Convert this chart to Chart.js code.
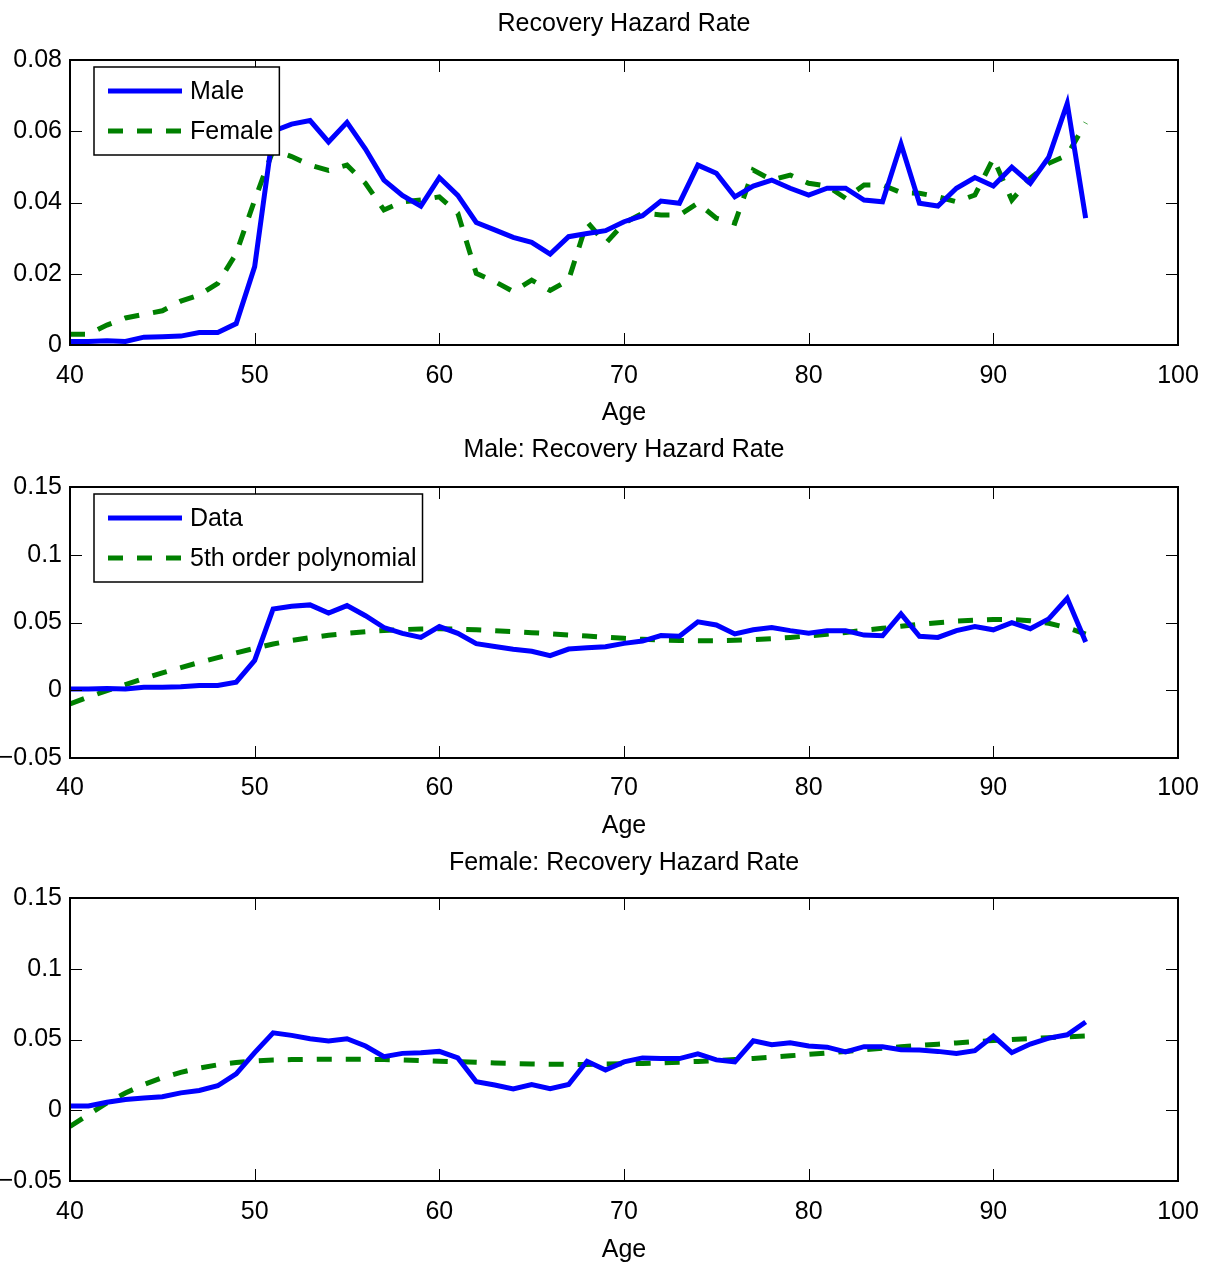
<!DOCTYPE html>
<html>
<head>
<meta charset="utf-8">
<script src="https://cdn.jsdelivr.net/npm/chart.js@4.4.1/dist/chart.umd.min.js"></script>
<style>
  body { margin: 0; background: #fff; width: 1209px; height: 1268px; position: relative; overflow: hidden; }
  .panel { position: absolute; left: 0; width: 1209px; }
</style>
</head>
<body>
<div class="panel" style="top:0;height:432px"><canvas id="all"></canvas></div>
<div class="panel" style="top:432px;height:410px"><canvas id="male"></canvas></div>
<div class="panel" style="top:842px;height:426px"><canvas id="female"></canvas></div>
<script>
// ages 40..95
const ages = [40,41,42,43,44,45,46,47,48,49,50,51,52,53,54,55,56,57,58,59,
              60,61,62,63,64,65,66,67,68,69,70,71,72,73,74,75,76,77,78,79,
              80,81,82,83,84,85,86,87,88,89,90,91,92,93,94,95]

const maleRate = [0.001,0.001,0.0012,0.001,0.0022,0.0023,0.0025,0.0035,0.0035,0.006,
                  0.022,0.060,0.062,0.063,0.057,0.0625,0.055,0.0463,0.042,0.039,
                  0.047,0.042,0.0344,0.0323,0.0302,0.0288,0.0255,0.0304,0.0313,0.0321,
                  0.0346,0.0363,0.0404,0.0398,0.0505,0.0482,0.0416,0.0446,0.0463,0.044,
                  0.0421,0.044,0.044,0.0407,0.0402,0.0564,0.0398,0.039,0.044,0.047,
                  0.0446,0.0499,0.0454,0.0527,0.0678,0.0356]

const femaleRate = [0.003,0.003,0.0056,0.0076,0.0086,0.0096,0.0123,0.014,0.0173,0.0257,
                    0.0407,0.0547,0.0529,0.0505,0.049,0.0505,0.0454,0.0379,0.0402,0.0407,
                    0.0416,0.037,0.0201,0.0178,0.015,0.0182,0.0153,0.0182,0.0346,0.0285,
                    0.0342,0.037,0.0365,0.0365,0.0398,0.0356,0.0342,0.0491,0.0463,0.0477,
                    0.0454,0.0446,0.0412,0.0449,0.0449,0.0428,0.0426,0.0416,0.0402,0.0421,
                    0.0524,0.0407,0.0468,0.051,0.0533,0.0624]

const malePoly = [-0.0101,-0.005,-0.0003,0.0042,0.0086,0.0128,0.0167,0.0205,0.0241,0.0276,
                  0.031,0.0341,0.0367,0.0388,0.0406,0.042,0.0432,0.0441,0.0448,0.0452,
                  0.0454,0.0451,0.0446,0.0440,0.0433,0.0425,0.0417,0.0408,0.04,0.0391,
                  0.0383,0.0376,0.0371,0.0368,0.0366,0.0366,0.0369,0.0374,0.0381,0.039,
                  0.0401,0.0414,0.0427,0.0442,0.0457,0.0472,0.0487,0.0499,0.051,0.0517,
                  0.0522,0.0522,0.0513,0.0494,0.0462,0.0415]

const femalePoly = [-0.0115,-0.003,0.0052,0.0122,0.0181,0.023,0.0268,0.0298,0.0321,0.0337,
                    0.0348,0.0355,0.0358,0.036,0.0361,0.0361,0.036,0.0358,0.0355,0.0351,
                    0.0347,0.0343,0.0339,0.0334,0.033,0.0327,0.0325,0.0324,0.0324,0.0326,
                    0.0328,0.0331,0.0335,0.034,0.0345,0.0351,0.0358,0.0366,0.0375,0.0385,
                    0.0395,0.0405,0.0416,0.0427,0.0438,0.0448,0.0458,0.0467,0.0476,0.0485,
                    0.0493,0.05,0.0507,0.0513,0.0519,0.0525]

const xTicks = [40,50,60,70,80,90,100]
const xLabels = ['40','50','60','70','80','90','100']
const topYTicks = [0,0.02,0.04,0.06,0.08]
const topYLabels = ['0','0.02','0.04','0.06','0.08']
const fitYTicks = [-0.05,0,0.05,0.1,0.15]
const fitYLabels = ['\u22120.05','0','0.05','0.1','0.15']

const FONT = '"Liberation Sans", Arial, Helvetica, sans-serif'
Chart.defaults.font.family = FONT
Chart.defaults.font.size = 25
Chart.defaults.color = '#000'

const BLUE = '#0000ff'
const GREEN = '#008000'

function pairs(vals) {
    return vals.map((v, i) => ({x: ages[i], y: v}))
}

function solid(label, vals) {
    return {label: label, data: pairs(vals), borderColor: BLUE, borderWidth: 5,
            pointRadius: 0, tension: 0, fill: false}
}
function dashed(label, vals) {
    return {label: label, data: pairs(vals), borderColor: GREEN, borderWidth: 5,
            borderDash: [15, 14], pointRadius: 0, tension: 0, fill: false}
}

// matlab look: full box, inward ticks, boxed legend in the corner
const matlabAxes = {
    id: 'matlabAxes',
    afterDatasetsDraw(chart) {
        const {ctx, chartArea: a} = chart
        const x = chart.scales.x, y = chart.scales.y
        ctx.save()
        ctx.strokeStyle = '#000'
        ctx.lineWidth = 1
        ctx.beginPath()
        x.ticks.forEach(t => {
            const px = Math.round(x.getPixelForValue(t.value)) + 0.5
            ctx.moveTo(px, a.bottom); ctx.lineTo(px, a.bottom - 12)
            ctx.moveTo(px, a.top); ctx.lineTo(px, a.top + 12)
        })
        y.ticks.forEach(t => {
            const py = Math.round(y.getPixelForValue(t.value)) + 0.5
            ctx.moveTo(a.left, py); ctx.lineTo(a.left + 12, py)
            ctx.moveTo(a.right, py); ctx.lineTo(a.right - 12, py)
        })
        ctx.stroke()
        ctx.lineWidth = 2
        ctx.strokeRect(a.left, a.top, a.right - a.left, a.bottom - a.top)
        ctx.restore()
    },
    afterDraw(chart, args, opts) {
        if (!opts.show) return
        const {ctx, chartArea: a} = chart
        const items = chart.data.datasets
        ctx.save()
        ctx.font = '25px ' + FONT
        const tw = Math.max(...items.map(d => ctx.measureText(d.label).width))
        const bx = a.left + 24, by = a.top + 7
        const w = 14 + 74 + 8 + tw + 6
        const h = 48 + 40 * (items.length - 1)
        ctx.fillStyle = '#fff'
        ctx.fillRect(bx, by, w, h)
        ctx.strokeStyle = '#000'
        ctx.lineWidth = 1.5
        ctx.strokeRect(bx, by, w, h)
        items.forEach((d, i) => {
            const ly = by + 24 + 40 * i
            ctx.setLineDash(d.borderDash || [])
            ctx.strokeStyle = d.borderColor
            ctx.lineWidth = d.borderWidth
            ctx.beginPath()
            ctx.moveTo(bx + 14, ly)
            ctx.lineTo(bx + 88, ly)
            ctx.stroke()
            ctx.setLineDash([])
            ctx.fillStyle = '#000'
            ctx.textBaseline = 'middle'
            ctx.fillText(d.label, bx + 96, ly + 1)
        })
        ctx.restore()
    }
}

function makeChart(id, cfg) {
    return new Chart(document.getElementById(id), {
        type: 'line',
        data: {datasets: cfg.datasets},
        plugins: [matlabAxes],
        options: {
            responsive: true,
            maintainAspectRatio: false,
            animation: false,
            layout: {padding: {left: 0, right: 31, top: 0, bottom: 0}},
            plugins: {
                legend: {display: false},
                tooltip: {enabled: false},
                title: {
                    display: true, text: cfg.title, fullSize: false,
                    font: {size: 25, weight: 'normal'}, color: '#000',
                    padding: {top: cfg.titleTop, bottom: cfg.titleBottom}
                },
                matlabAxes: {show: cfg.legend}
            },
            scales: {
                x: {
                    type: 'linear', min: 40, max: 100,
                    afterBuildTicks: s => { s.ticks = xTicks.map(v => ({value: v})) },
                    ticks: {callback: (v, i) => xLabels[i], padding: cfg.xPad, maxRotation: 0},
                    grid: {display: false, drawTicks: false},
                    border: {display: false},
                    title: {display: true, text: 'Age', padding: {top: 0, bottom: cfg.agePad}},
                    afterFit: s => {
                        s.height = cfg.xHeight
                        s.paddingLeft = 0
                        s.paddingRight = 0
                    }
                },
                y: {
                    min: cfg.yTicks[0], max: cfg.yTicks[cfg.yTicks.length - 1],
                    afterBuildTicks: s => { s.ticks = cfg.yTicks.map(v => ({value: v})) },
                    ticks: {callback: (v, i) => cfg.yLabels[i], padding: 8},
                    grid: {display: false, drawTicks: false},
                    border: {display: false},
                    afterFit: s => {
                        s.width = 70
                        s.paddingTop = 0
                        s.paddingBottom = 0
                    }
                }
            }
        }
    })
}

makeChart('all', {
    title: 'Recovery Hazard Rate',
    datasets: [solid('Male', maleRate), dashed('Female', femaleRate)],
    yTicks: topYTicks, yLabels: topYLabels, legend: true,
    titleTop: 9, titleBottom: 21, xHeight: 87, xPad: 16, agePad: 4
})
makeChart('male', {
    title: 'Male: Recovery Hazard Rate',
    datasets: [solid('Data', maleRate), dashed('5th order polynomial', malePoly)],
    yTicks: fitYTicks, yLabels: fitYLabels, legend: true,
    titleTop: 3, titleBottom: 22, xHeight: 84, xPad: 15, agePad: 1
})
makeChart('female', {
    title: 'Female: Recovery Hazard Rate',
    datasets: [solid('Data', femaleRate), dashed('5th order polynomial', femalePoly)],
    yTicks: fitYTicks, yLabels: fitYLabels, legend: false,
    titleTop: 6, titleBottom: 20, xHeight: 87, xPad: 16, agePad: 3
})
</script>
</body>
</html>
